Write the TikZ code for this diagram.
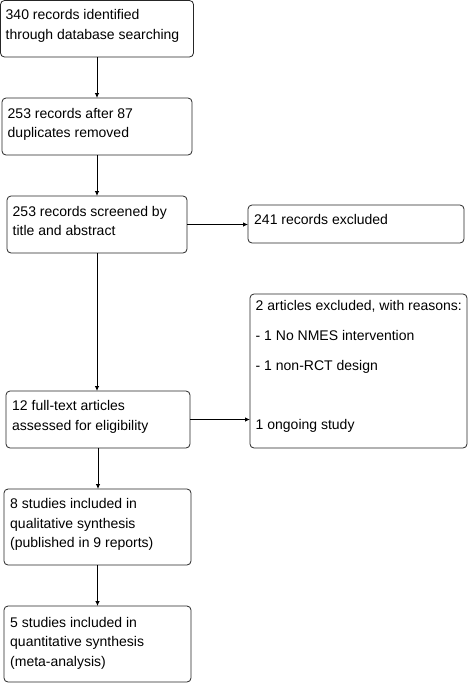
\documentclass[tikz,border=0pt]{standalone}
\usepackage{fontspec}
\setmainfont{Liberation Sans}
\usetikzlibrary{arrows.meta,calc}
\begin{document}
\begin{tikzpicture}[x=1pt,y=-1pt,
  box/.style={draw=black!85, line width=0.8pt, rounded corners=4pt, inner sep=0pt, outer sep=0pt, anchor=north west},
  txt/.style={anchor=north west, inner sep=0pt, align=left, font=\fontsize{14}{19.5}\selectfont},
  arr/.style={draw=black, line width=0.8pt, -{Latex[length=5pt,width=4.5pt]}}]
\useasboundingbox (0,0) rectangle (469,683);
% boxes
\node[box, minimum width=193, minimum height=56.5] (b1) at (0.5,0.5) {};
\node[box, minimum width=190, minimum height=57] (b2) at (2,98) {};
\node[box, minimum width=180, minimum height=57] (b3) at (7,196) {};
\node[box, minimum width=216, minimum height=38] (b4) at (248,205) {};
\node[box, minimum width=217, minimum height=154] (b5) at (250,294) {};
\node[box, minimum width=184, minimum height=57] (b6) at (6,391) {};
\node[box, minimum width=187, minimum height=76] (b7) at (4,489) {};
\node[box, minimum width=187, minimum height=76] (b8) at (4,606) {};
% texts
\node[txt] (t1) at ($(b1.north west)+(5,9)$) {340 records identified\\through database searching};
\node[txt] (t2) at ($(b2.north west)+(5.5,10)$) {253 records after 87\\duplicates removed};
\node[txt] (t3) at ($(b3.north west)+(5.5,10)$) {253 records screened by\\title and abstract};
\node[txt] (t4) at ($(b4.north west)+(6,9.5)$) {241 records excluded};
\node[txt] (t5) at ($(b5.north west)+(5.5,6.5)$) {2 articles excluded, with reasons:\\[10.5pt]- 1 No NMES intervention\\[10.5pt]- 1 non-RCT design\\[39.5pt]1 ongoing study};
\node[txt] (t6) at ($(b6.north west)+(6,9.5)$) {12 full-text articles\\assessed for eligibility};
\node[txt] (t7) at ($(b7.north west)+(6,9.5)$) {8 studies included in\\qualitative synthesis\\(published in 9 reports)};
\node[txt] (t8) at ($(b8.north west)+(6,11)$) {5 studies included in\\quantitative synthesis\\(meta-analysis)};
% connectors
\draw[arr] (b1.south) -- (b1.south |- b2.north);
\draw[arr] (b2.south) -- (b2.south |- b3.north);
\draw[arr] (b3.east) -- (b3.east -| b4.west);
\draw[arr] (b3.south) -- (b3.south |- b6.north);
\draw[arr] (b6.east) -- (b6.east -| b5.west);
\draw[arr] (b6.south) -- (b6.south |- b7.north);
\draw[arr] (b7.south) -- (b7.south |- b8.north);
\end{tikzpicture}
\end{document}
